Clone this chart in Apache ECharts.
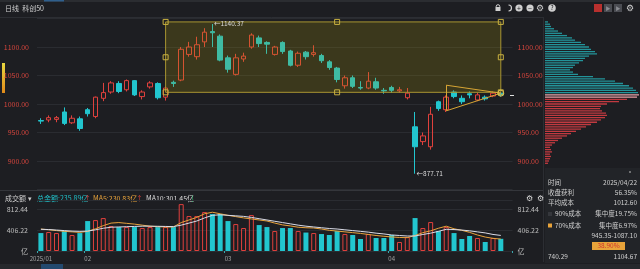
<!DOCTYPE html>
<html><head><meta charset="utf-8">
<script src="https://cdn.jsdelivr.net/npm/echarts@6/dist/echarts.min.js"></script>
<style>html,body{margin:0;padding:0;background:#1d1e22;}#c{width:640px;height:269px;}</style>
</head><body><div id="c"></div>
<script>
// ---------- data ----------
const dates = ['2025-01-20','2025-01-21','2025-01-22','2025-01-23','2025-01-24','2025-01-27',
'2025-02-05','2025-02-06','2025-02-07','2025-02-10','2025-02-11','2025-02-12','2025-02-13','2025-02-14','2025-02-17','2025-02-18','2025-02-19','2025-02-20','2025-02-21','2025-02-24','2025-02-25','2025-02-26','2025-02-27','2025-02-28',
'2025-03-03','2025-03-04','2025-03-05','2025-03-06','2025-03-07','2025-03-10','2025-03-11','2025-03-12','2025-03-13','2025-03-14','2025-03-17','2025-03-18','2025-03-19','2025-03-20','2025-03-21','2025-03-24','2025-03-25','2025-03-26','2025-03-27','2025-03-28','2025-03-31',
'2025-04-01','2025-04-02','2025-04-03','2025-04-07','2025-04-08','2025-04-09','2025-04-10','2025-04-11','2025-04-14','2025-04-15','2025-04-16','2025-04-17','2025-04-18','2025-04-21','2025-04-22'];
const opens  = [971,972,973,986,967,974,990,978,1010,1021,1036,1025,1041,1013,1030,1036,1012,1038,1042,1087,1083,1109,1127,1119,1081,1052,1079,1100,1116,1108,1087,1108,1093,1068,1091,1087,1085,1074,1063,1032,1046,1029,1028,1039,1024,1029,1023,1011,960,934,925,1004,990,1021,1010,1018,1007,1012,1014,1019];
const closes = [970,976,976,966,975,957,983,1012,1020,1037,1022,1041,1016,1021,1037,1011,1028,1036,1096,1100,1104,1126,1125,1077,1061,1081,1084,1121,1106,1105,1100,1092,1068,1089,1083,1090,1076,1064,1043,1046,1031,1028,1040,1028,1023,1024,1025,1019,925,944,982,992,1012,1013,1004,1016,1016,1009,1019,1016];
const lows   = [965,968,968,963,965,953,978,975,1005,1018,1019,1022,1014,1008,1027,1008,1006,1030,1040,1083,1078,1100,1100,1075,1055,1050,1074,1097,1100,1088,1085,1088,1066,1065,1078,1083,1072,1060,1038,1027,1028,1025,1026,1025,1018,1020,1020,1008,877.71,928,920,988,986,1010,1000,1010,1005,1006,1012,1013];
const highs  = [975,980,979,994,980,978,993,1013,1037,1040,1040,1043,1042,1024,1040,1038,1031,1041,1100,1109,1118,1133,1140.37,1122,1085,1088,1090,1124,1120,1110,1102,1110,1095,1092,1093,1103,1088,1077,1065,1050,1050,1040,1056,1046,1028,1032,1030,1028,986,950,995,1006,1015,1024,1015,1022,1020,1015,1022,1021];
// turnover (亿)
const volumes = [347,367,347,386,309,347,579,598,637,483,463,463,463,444,463,463,463,463,907,676,676,753,714,714,579,521,444,695,502,463,386,444,444,386,357,347,328,309,386,328,309,232,328,251,251,309,174,270,637,444,560,386,463,347,232,290,251,174,251,235.89];
const volMA5  = [425,410,395,380,370,360,380,430,490,540,550,535,520,500,480,470,465,465,550,600,650,720,750,720,690,665,640,620,600,580,540,505,485,460,450,445,425,400,385,370,355,340,320,300,285,272,262,258,300,355,390,440,480,430,400,360,310,270,245,230.83];
const volMA10 = [420,415,405,395,385,380,385,410,440,460,465,470,475,480,480,478,475,472,500,540,580,640,690,700,690,680,670,650,625,600,575,550,525,500,480,465,450,435,425,410,395,380,365,345,330,310,300,290,290,320,345,380,420,415,405,390,370,350,320,301.45];
// chip distribution (price bins, relative weight)
const profilePrices = [852,856,860,864,868,872,876,880,884,888,892,896,900,904,908,912,916,920,924,928,932,936,940,944,948,952,956,960,964,968,972,976,980,984,988,992,996,1000,1004,1008,1012,1016,1020,1024,1028,1032,1036,1040,1044,1048,1052,1056,1060,1064,1068,1072,1076,1080,1084,1088,1092,1096,1100,1104,1108,1112,1116,1120,1124,1128,1132,1136,1140,1144,1148];
const profileValues = [0,0,0,0,0,0,0,0,0,0,0,3,4,5,6,5,7,6,5,7,10,13,17,22,26,31,36,41,46,52,56,60,62,61,57,55,56,62,74,82,92,94,93,91,88,84,78,70,60,48,33,28,25,28,30,34,38,40,44,52,50,46,44,40,36,30,27,22,17,13,9,6,5,3,0];
const currentPrice = 1016;
const tickDates = ['2025-01-20','2025-02-05','2025-03-03','2025-04-01'];
const tickNames = ['2025/01','02','03','04'];
// drawing annotations (data units)
const boxX = [16, 37.5, 59];
const boxY = [1020.5, 1082, 1144];
const triX = [52, 59];
const triY = [1033, 988, 1019];

// ---------- styles ----------
const FONT = '"Noto Sans CJK SC","Noto Sans",sans-serif';
const UP = '#e0413d', DOWN = '#22c6cf';
const BG = '#1d1e22';

const candleData = opens.map((o,i)=>[o, closes[i], lows[i], highs[i]]);
const volData = volumes.map((v,i)=>({value:v, itemStyle: closes[i] > opens[i]
   ? {color:'rgba(0,0,0,0)', borderColor:UP, borderWidth:1}
   : {color:DOWN, borderColor:DOWN, borderWidth:0}}));
const profData = profileValues.map((v,i)=>({value:v, itemStyle:{color:
   profilePrices[i] > currentPrice ? '#23949a' : (profilePrices[i] > currentPrice-6 ? '#e8a0a6' : '#c23a40')}}));

const handles = [];
boxX.forEach(x=>boxY.forEach(y=>{ if(!(x===boxX[1] && y===boxY[1])) handles.push({coord:[x,y], symbol:'rect', symbolSize:5, itemStyle:{color:'rgba(0,0,0,0)', borderColor:'#c9b140', borderWidth:1}, label:{show:false}}); }));

const txt = (text,x,y,fill,size,align) => ({type:'text', x, y, silent:true, style:{text, fill, fontSize:size||7, fontFamily:FONT, textAlign:align||'left', textVerticalAlign:'middle'}});

const chart = echarts.init(document.getElementById('c'), null, {renderer:'canvas', width:640, height:269});
const xCommon = {type:'category', data:dates, max:60, boundaryGap:true};
const yLabelPrice = {color:'#d4453d', fontSize:7, fontFamily:FONT, formatter:v=>v.toFixed(2), showMinLabel:false, showMaxLabel:false};
const yLabelVol = {color:'#bdbdbd', fontSize:7, fontFamily:FONT, formatter:v=>v===0?'亿':v.toFixed(2), showMaxLabel:false};

chart.setOption({
  backgroundColor: BG,
  animation:false,
  grid:[
    {left:37, right:127.5, top:18.5, height:171},
    {left:37, right:127.5, top:200, height:51},
    {left:545, right:0, top:18.5, height:171}
  ],
  xAxis:[
    Object.assign({gridIndex:0, axisLine:{show:false}, axisTick:{show:false}, axisLabel:{show:false}, splitLine:{show:false}}, xCommon),
    Object.assign({gridIndex:1, axisLine:{show:false},
      axisTick:{show:true, interval:(i,v)=>tickDates.indexOf(v)>=0, length:2, lineStyle:{color:'#3aa9b0'}},
      axisLabel:{interval:(i,v)=>tickDates.indexOf(v)>=0, formatter:v=>tickNames[tickDates.indexOf(v)], color:'#a3a3a3', fontSize:6, fontFamily:FONT, margin:5},
      splitLine:{show:false}}, xCommon),
    {type:'value', gridIndex:2, min:0, max:95, show:false}
  ],
  yAxis:[
    {type:'value', gridIndex:0, position:'left', min:850, max:1150, interval:50, axisLine:{show:false}, axisTick:{show:false},
      axisLabel:Object.assign({margin:8}, yLabelPrice), splitLine:{lineStyle:{color:'#2a2c31', width:1}}},
    {type:'value', gridIndex:0, position:'right', min:850, max:1150, interval:50, axisLine:{show:false}, axisTick:{show:false},
      axisLabel:Object.assign({margin:5}, yLabelPrice), splitLine:{show:false}},
    {type:'value', gridIndex:1, position:'left', min:0, max:986.5, interval:406.22, axisLine:{show:false}, axisTick:{show:false},
      axisLabel:Object.assign({margin:9}, yLabelVol), splitLine:{lineStyle:{color:'#2a2c31'}}},
    {type:'value', gridIndex:1, position:'right', min:0, max:986.5, interval:406.22, axisLine:{show:false}, axisTick:{show:false},
      axisLabel:Object.assign({margin:5}, yLabelVol), splitLine:{show:false}},
    {type:'category', gridIndex:2, data:profilePrices, show:false}
  ],
  series:[
    {type:'candlestick', name:'科创50', xAxisIndex:0, yAxisIndex:0, data:candleData, barWidth:5,
      itemStyle:{color:'rgba(0,0,0,0)', color0:DOWN, borderColor:UP, borderColor0:DOWN, borderWidth:1},
      markArea:{z:3, silent:true, itemStyle:{color:'rgba(170,150,10,0.22)', borderColor:'#a89532', borderWidth:1},
        data:[[{coord:[boxX[0], boxY[2]]},{coord:[boxX[2], boxY[0]]}]]},
      markLine:{silent:true, symbol:'none', label:{show:false}, lineStyle:{color:'#d7a534', width:1, type:'solid'},
        data:[
          [{coord:[triX[0],triY[0]]},{coord:[triX[1],triY[2]]}],
          [{coord:[triX[0],triY[1]]},{coord:[triX[1],triY[2]]}],
          [{coord:[triX[0],triY[0]]},{coord:[triX[0],triY[1]]}]
        ]},
      markPoint:{silent:true, data: handles.concat([
        {coord:[triX[1],triY[2]], symbol:'circle', symbolSize:6, itemStyle:{color:'rgba(0,0,0,0)', borderColor:'#e0c050', borderWidth:1}, label:{show:false}},
        {type:'max', valueDim:'highest', symbol:'circle', symbolSize:1, itemStyle:{color:'rgba(0,0,0,0)'},
          label:{show:true, position:'right', distance:1, formatter:p=>'←'+Number(p.value).toFixed(2), color:'#dcdcdc', fontSize:6.5, fontFamily:FONT}},
        {type:'min', valueDim:'lowest', symbol:'circle', symbolSize:1, itemStyle:{color:'rgba(0,0,0,0)'},
          label:{show:true, position:'right', distance:1, formatter:p=>'←'+Number(p.value).toFixed(2), color:'#dcdcdc', fontSize:6.5, fontFamily:FONT}}
      ])}
    },
    {type:'bar', name:'成交额', xAxisIndex:1, yAxisIndex:2, data:volData, barWidth:5},
    {type:'line', name:'MA5', xAxisIndex:1, yAxisIndex:2, data:volMA5, symbol:'none', lineStyle:{color:'#e7a23b', width:1}, z:3},
    {type:'line', name:'MA10', xAxisIndex:1, yAxisIndex:2, data:volMA10, symbol:'none', lineStyle:{color:'#d9dbe6', width:1}, z:3},
    {type:'bar', name:'筹码', xAxisIndex:2, yAxisIndex:4, data:profData, barWidth:1.3}
  ],
  graphic:[
    {type:'rect', silent:true, z:-1, shape:{x:0,y:0,width:640,height:2}, style:{fill:'#2b2d31'}},
    {type:'rect', silent:true, shape:{x:44,y:0,width:20,height:1.5}, style:{fill:'#2f5f8c'}},
    txt('日线  科创50', 5, 8, '#cfcfcf', 7),
    {type:'line', silent:true, shape:{x1:0,y1:17.5,x2:543,y2:17.5}, style:{stroke:'#2c2e33'}},
    {type:'line', silent:true, shape:{x1:0,y1:190.5,x2:543,y2:190.5}, style:{stroke:'#34363b'}},
    {type:'line', silent:true, shape:{x1:543.5,y1:17,x2:543.5,y2:262}, style:{stroke:'#2c2e33'}},
    {type:'rect', silent:true, shape:{x:2,y:63,width:3,height:30}, style:{fill:new echarts.graphic.LinearGradient(0,0,0,1,[{offset:0,color:'#e8d840'},{offset:1,color:'#e08a1a'}])}},
    {type:'rect', silent:true, shape:{x:510,y:95,width:4,height:1}, style:{fill:'#e0e0e0'}},
    // volume legend
    txt('成交额 ▾', 5, 198, '#d0d0d0', 7),
    txt('总金额:235.89亿', 37, 198, '#21c0c8', 7),
    txt('↑', 84, 198, '#e0413d', 7),
    txt('MA5:230.83亿', 93, 198, '#e7a23b', 7),
    txt('↑', 136, 198, '#e0413d', 7),
    txt('MA10:301.45亿', 146, 198, '#dcdcdc', 7),
    txt('↓', 189, 198, '#2bbd6e', 7),
    txt('⚙', 529, 198, '#d8d8d8', 8, 'center'),
    txt('⚙', 540, 198, '#d8d8d8', 8, 'center'),
    // toolbar icons
    {type:'rect', silent:true, shape:{x:495.5,y:7,width:5,height:4}, style:{fill:'#cfcfcf'}},
    {type:'circle', silent:true, shape:{cx:498,cy:6.5,r:1.8}, style:{fill:null, stroke:'#cfcfcf', lineWidth:1}},
    {type:'arc', silent:true, shape:{cx:508.5,cy:8,r:3,startAngle:-Math.PI/2,endAngle:Math.PI/2}, style:{fill:null, stroke:'#cfcfcf', lineWidth:1.2}},
    {type:'circle', silent:true, shape:{cx:519,cy:8,r:3.6}, style:{fill:'#cfcfcf'}},
    txt('+', 519, 8, '#1d1e22', 7, 'center'),
    {type:'circle', silent:true, shape:{cx:530,cy:8,r:3.6}, style:{fill:'#cfcfcf'}},
    txt('−', 530, 8, '#1d1e22', 7, 'center'),
    txt('⚙', 540, 8, '#cfcfcf', 9, 'center'),
    {type:'circle', silent:true, shape:{cx:552,cy:8,r:3.8}, style:{fill:'#cfcfcf'}},
    txt('?', 552, 8, '#1d1e22', 6.5, 'center'),
    {type:'rect', silent:true, shape:{x:594,y:4,width:8,height:8}, style:{fill:'#b8302e'}},
    {type:'rect', silent:true, shape:{x:604,y:4,width:8,height:8}, style:{fill:'#4a4c52'}},
    txt('▶', 608, 8, '#8a8c92', 5, 'center'),
    {type:'rect', silent:true, shape:{x:614,y:4,width:8,height:8}, style:{fill:'#4a4c52'}},
    txt('▶', 618, 8, '#8a8c92', 5, 'center'),
    txt('⚙', 630, 8, '#cfcfcf', 9, 'center'),
    // chip info panel
    {type:'rect', silent:true, z:-1, shape:{x:545,y:168,width:95,height:95}, style:{fill:'#222428'}},
    {type:'circle', silent:true, shape:{cx:630,cy:172,r:0.8}, style:{fill:'#cfcfcf'}},
    txt('时间', 548, 183, '#cfcfcf', 6.5), txt('2025/04/22', 637, 183, '#cfcfcf', 6.5, 'right'),
    txt('收盘获利', 548, 193, '#cfcfcf', 6.5), txt('56.35%', 637, 193, '#cfcfcf', 6.5, 'right'),
    txt('平均成本', 548, 203, '#cfcfcf', 6.5), txt('1012.60', 637, 203, '#cfcfcf', 6.5, 'right'),
    {type:'rect', silent:true, shape:{x:548,y:212,width:4,height:4}, style:{fill:'#35373c'}},
    txt('90%成本', 555, 214, '#cfcfcf', 6.5), txt('集中度19.75%', 637, 214, '#cfcfcf', 6.5, 'right'),
    {type:'rect', silent:true, shape:{x:548,y:223.5,width:4,height:4}, style:{fill:'#e8a33a'}},
    txt('70%成本', 555, 225.5, '#cfcfcf', 6.5), txt('集中度6.97%', 637, 225.5, '#cfcfcf', 6.5, 'right'),
    txt('945.35-1087.10', 637, 236, '#cfcfcf', 6.5, 'right'),
    {type:'rect', silent:true, shape:{x:592,y:242,width:33,height:8}, style:{fill:'#e8a33a'}},
    txt('38.90%', 608.5, 246, '#d0352f', 6.5, 'center'),
    txt('740.29', 548, 257, '#cfcfcf', 6.5), txt('1104.67', 637, 257, '#cfcfcf', 6.5, 'right'),
    // bottom tab row
    {type:'rect', silent:true, shape:{x:0,y:264,width:640,height:5}, style:{fill:'#26282c'}},
    {type:'rect', silent:true, shape:{x:41,y:264,width:22,height:5}, style:{fill:'#23496e'}}
  ]
});
</script></body></html>
